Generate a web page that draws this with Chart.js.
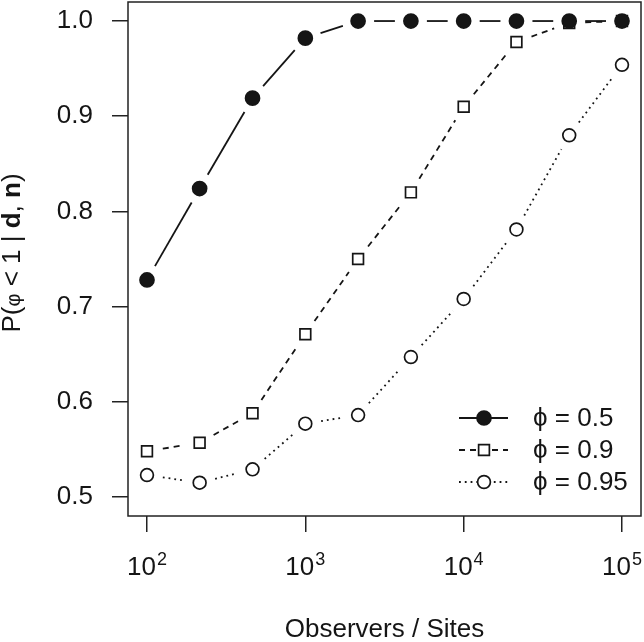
<!DOCTYPE html>
<html>
<head>
<meta charset="utf-8">
<script src="https://cdn.jsdelivr.net/npm/chart.js@4.4.1/dist/chart.umd.min.js"></script>
<style>
  html, body { margin: 0; padding: 0; background: #fff; }
  #wrap { width: 644px; height: 642px; }
</style>
</head>
<body>
<div id="wrap"><canvas id="grafico" width="644" height="642"></canvas></div>
<script>
// Observers / Sites (3 puntos por década)
const observadores = [100, 215, 464, 1000, 2154, 4642, 10000, 21544, 46416, 100000];

// P(phi < 1 | d, n) para cada phi
const phi05 = [0.728, 0.824, 0.919, 0.982, 1.0, 1.0, 1.0, 1.0, 1.0, 1.0];
const phi09 = [0.548, 0.557, 0.588, 0.671, 0.750, 0.820, 0.910, 0.978, 0.998, 1.0];
const phi095 = [0.523, 0.515, 0.529, 0.577, 0.586, 0.647, 0.708, 0.781, 0.880, 0.954];

const etiquetasPhi = ['0.5', '0.9', '0.95'];
const ticksX = [100, 1000, 10000, 100000];
const exponentesX = ['2', '3', '4', '5'];
const ticksY = [0.5, 0.6, 0.7, 0.8, 0.9, 1.0];

const FUENTE = '"Liberation Sans", Arial, Helvetica, sans-serif';
const NEGRO = '#151515';
const HUECO = 16; // hueco alrededor de cada punto (como type = "b" en R)

const estilos = [
    { datos: phi05, dash: [], estilo: 'circle', radio: 7, relleno: NEGRO },
    { datos: phi09, dash: [6, 5], estilo: 'rect', radio: 7.6, relleno: 'rgba(0,0,0,0)' },
    { datos: phi095, dash: [1.8, 4], estilo: 'circle', radio: 6.4, relleno: 'rgba(0,0,0,0)' }
];

const puntos = (valores) => valores.map((v, i) => ({ x: observadores[i], y: v }));

// solo marcadores; las lineas con huecos las dibuja el plugin
const datasets = estilos.map((s, i) => ({
    label: 'phi = ' + etiquetasPhi[i],
    data: puntos(s.datos),
    showLine: false,
    pointStyle: s.estilo,
    pointRadius: s.radio,
    pointBackgroundColor: s.relleno,
    pointBorderColor: NEGRO,
    pointBorderWidth: 1.7,
    order: i === 0 ? 0 : 1
}));

const lineasConHuecos = {
    id: 'lineasConHuecos',
    beforeDatasetsDraw(chart) {
        const ctx = chart.ctx;
        const area = chart.chartArea;
        ctx.save();
        ctx.beginPath();
        ctx.rect(area.left, area.top, area.right - area.left, area.bottom - area.top);
        ctx.clip();
        ctx.strokeStyle = NEGRO;
        ctx.lineWidth = 1.8;
        estilos.forEach((s, i) => {
            const elementos = chart.getDatasetMeta(i).data;
            ctx.setLineDash(s.dash);
            for (let j = 0; j < elementos.length - 1; j++) {
                const a = elementos[j], b = elementos[j + 1];
                const dx = b.x - a.x, dy = b.y - a.y;
                const largo = Math.hypot(dx, dy);
                if (largo <= 2 * HUECO) continue;
                const ux = dx / largo, uy = dy / largo;
                ctx.beginPath();
                ctx.moveTo(a.x + ux * HUECO, a.y + uy * HUECO);
                ctx.lineTo(b.x - ux * HUECO, b.y - uy * HUECO);
                ctx.stroke();
            }
        });
        ctx.restore();
    }
};

const extras = {
    id: 'extras',
    afterDraw(chart) {
        const ctx = chart.ctx;
        const area = chart.chartArea;
        const x = chart.scales.x;

        // caja
        ctx.save();
        ctx.strokeStyle = '#222';
        ctx.lineWidth = 1.5;
        ctx.strokeRect(area.left, area.top, area.right - area.left, area.bottom - area.top);

        // etiquetas eje x: 10^n
        ctx.fillStyle = NEGRO;
        ctx.textBaseline = 'alphabetic';
        ctx.textAlign = 'left';
        ticksX.forEach((v, i) => {
            const px = x.getPixelForValue(v);
            ctx.font = '26px ' + FUENTE;
            const wBase = ctx.measureText('10').width;
            ctx.font = '18px ' + FUENTE;
            const wExp = ctx.measureText(exponentesX[i]).width;
            const inicio = px - (wBase + 1 + wExp) / 2;
            ctx.font = '26px ' + FUENTE;
            ctx.fillText('10', inicio, area.bottom + 59);
            ctx.font = '18px ' + FUENTE;
            ctx.fillText(exponentesX[i], inicio + wBase + 1, area.bottom + 49);
        });

        // titulo eje y con d, n en negrita
        const partes = [
            { t: 'P(', f: '26px ' + FUENTE },
            { t: 'φ', f: '20px ' + FUENTE },
            { t: ' < 1 | ', f: '26px ' + FUENTE },
            { t: 'd', f: 'bold 26px ' + FUENTE },
            { t: ', ', f: '26px ' + FUENTE },
            { t: 'n', f: 'bold 26px ' + FUENTE },
            { t: ')', f: '26px ' + FUENTE }
        ];
        let total = 0;
        partes.forEach((p) => { ctx.font = p.f; p.w = ctx.measureText(p.t).width; total += p.w; });
        ctx.translate(20, (area.top + area.bottom) / 2 - 6);
        ctx.rotate(-Math.PI / 2);
        let cx = -total / 2;
        partes.forEach((p) => { ctx.font = p.f; ctx.fillText(p.t, cx, 0); cx += p.w; });
        ctx.restore();

        // leyenda
        ctx.save();
        const filas = [area.bottom - 98, area.bottom - 66, area.bottom - 34];
        estilos.forEach((s, i) => {
            const y = filas[i];
            const xm = area.right - 157;
            ctx.strokeStyle = NEGRO;
            ctx.lineWidth = 1.8;
            ctx.setLineDash(s.dash);
            ctx.beginPath();
            ctx.moveTo(area.right - 182, y);
            ctx.lineTo(area.right - 133, y);
            ctx.stroke();
            ctx.setLineDash([]);
            ctx.lineWidth = 1.7;
            ctx.fillStyle = s.relleno === NEGRO ? NEGRO : '#fff';
            ctx.beginPath();
            if (s.estilo === 'rect') {
                const h = s.radio * Math.SQRT1_2;
                ctx.rect(xm - h, y - h, 2 * h, 2 * h);
            } else {
                ctx.arc(xm, y, s.radio, 0, Math.PI * 2);
            }
            ctx.fill();
            ctx.stroke();
            ctx.fillStyle = NEGRO;
            ctx.font = '26px ' + FUENTE;
            ctx.textBaseline = 'middle';
            ctx.textAlign = 'left';
            ctx.fillText('ϕ = ' + etiquetasPhi[i], area.right - 108, y + 1);
        });
        ctx.restore();
    }
};

new Chart(document.getElementById('grafico').getContext('2d'), {
    type: 'scatter',
    data: { datasets: datasets },
    options: {
        responsive: false,
        animation: false,
        layout: { autoPadding: false, padding: { top: 2, right: 3, left: 0, bottom: 0 } },
        plugins: {
            legend: { display: false },
            tooltip: { enabled: false }
        },
        scales: {
            x: {
                type: 'logarithmic',
                min: 75.86,
                max: 131826,
                afterBuildTicks: (scale) => { scale.ticks = ticksX.map((v) => ({ value: v })); },
                afterFit: (scale) => {
                    scale.height = 126;
                    scale.paddingLeft = 0;
                    scale.paddingRight = 0;
                },
                ticks: { display: false },
                grid: { drawOnChartArea: false, drawTicks: true, tickLength: 16, color: '#222', lineWidth: 1.5 },
                border: { display: false },
                title: {
                    display: true,
                    text: 'Observers / Sites',
                    color: NEGRO,
                    font: { size: 26, family: FUENTE },
                    padding: { top: 0, bottom: -3 }
                }
            },
            y: {
                min: 0.48,
                max: 1.02,
                afterBuildTicks: (scale) => { scale.ticks = ticksY.map((v) => ({ value: v })); },
                afterFit: (scale) => {
                    scale.width = 128;
                    scale.paddingTop = 0;
                    scale.paddingBottom = 0;
                },
                ticks: {
                    color: NEGRO,
                    padding: 19,
                    font: { size: 26, family: FUENTE },
                    callback: (v) => Number(v).toFixed(1)
                },
                grid: { drawOnChartArea: false, drawTicks: true, tickLength: 16, color: '#222', lineWidth: 1.5 },
                border: { display: false }
            }
        }
    },
    plugins: [lineasConHuecos, extras]
});
</script>
</body>
</html>
